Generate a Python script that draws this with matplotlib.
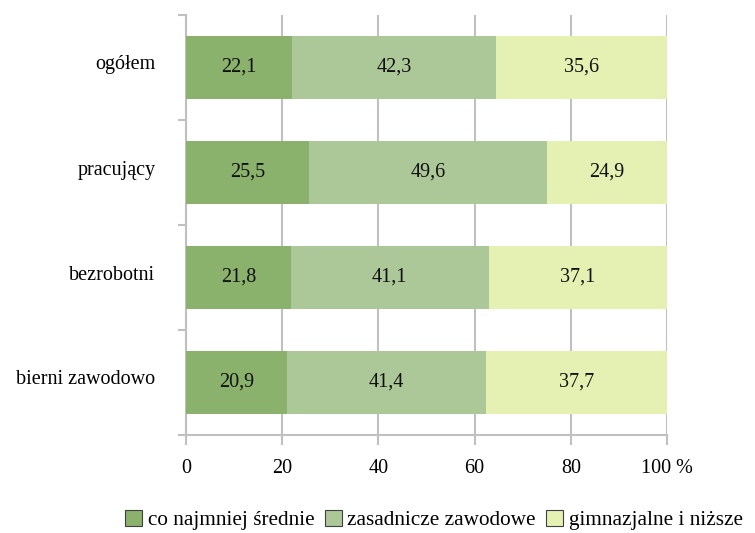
import numpy as np
import matplotlib.pyplot as plt
import matplotlib.transforms as mtransforms
from matplotlib.patches import Patch

# education level shares by labour market status (%)
categories = ["ogółem", "pracujący", "bezrobotni", "bierni zawodowo"]
srednie = [22.1, 25.5, 21.8, 20.9]
zasadnicze = [42.3, 49.6, 41.1, 41.4]
gimnazjalne = [35.6, 24.9, 37.1, 37.7]

series_names = ["co najmniej średnie", "zasadnicze zawodowe", "gimnazjalne i niższe"]
colors = ["#8bb26c", "#adc898", "#e5f1b3"]
x_ticks = [0, 20, 40, 60, 80, 100]
x_labels = ["0", "20", "40", "60", "80", "100 %"]

plt.rcParams["font.family"] = ["Liberation Serif", "DejaVu Serif"]
plt.rcParams["font.size"] = 14.5

fig = plt.figure(figsize=(7.55, 5.33), dpi=100)
ax = fig.add_axes([186 / 755, 1 - 435 / 533, (667 - 186) / 755, (435 - 15) / 533])

y = np.arange(len(categories))
left = np.zeros(len(categories))
for vals, col in zip([srednie, zasadnicze, gimnazjalne], colors):
    vals = np.array(vals)
    bars = ax.barh(y, vals, left=left, height=0.6, color=col, zorder=3)
    for b, v in zip(bars, vals):
        ax.text(b.get_x() + b.get_width() / 2, b.get_y() + b.get_height() / 2,
                f"{v:.1f}".replace(".", ","), ha="center", va="center",
                color="#111111", zorder=4)
    left += vals

ax.set_xlim(0, 100)
ax.set_ylim(3.5, -0.5)

grid_col = "#c0c0c0"
ax.set_xticks(x_ticks)
ax.set_xticklabels(x_labels)
ax.xaxis.grid(True, color=grid_col, linewidth=1.5, zorder=0)
ax.tick_params(axis="x", direction="out", length=7, width=1.5, color=grid_col, pad=10)

ax.set_yticks(y)
ax.set_yticklabels(categories)
ax.set_yticks(np.arange(-0.5, 4, 1), minor=True)
ax.tick_params(axis="y", which="major", length=0, pad=22)
ax.tick_params(axis="y", which="minor", direction="out", length=6, width=1.5, color=grid_col)

# category labels sit a little above the bar centres
shift = mtransforms.ScaledTranslation(0, 5 / 100, fig.dpi_scale_trans)
for lab in ax.get_yticklabels():
    lab.set_transform(lab.get_transform() + shift)

for side in ["top", "right"]:
    ax.spines[side].set_visible(False)
for side in ["left", "bottom"]:
    ax.spines[side].set_color(grid_col)
    ax.spines[side].set_linewidth(1.5)

handles = [Patch(facecolor=c, edgecolor="#404040", linewidth=0.8) for c in colors]
fig.legend(handles, series_names, loc="center", bbox_to_anchor=(0.575, 0.024),
           ncol=3, frameon=False, handlelength=0.8, handleheight=0.8,
           handletextpad=0.25, columnspacing=0.5, fontsize=15.3)

fig.savefig("out.png", dpi=100)
